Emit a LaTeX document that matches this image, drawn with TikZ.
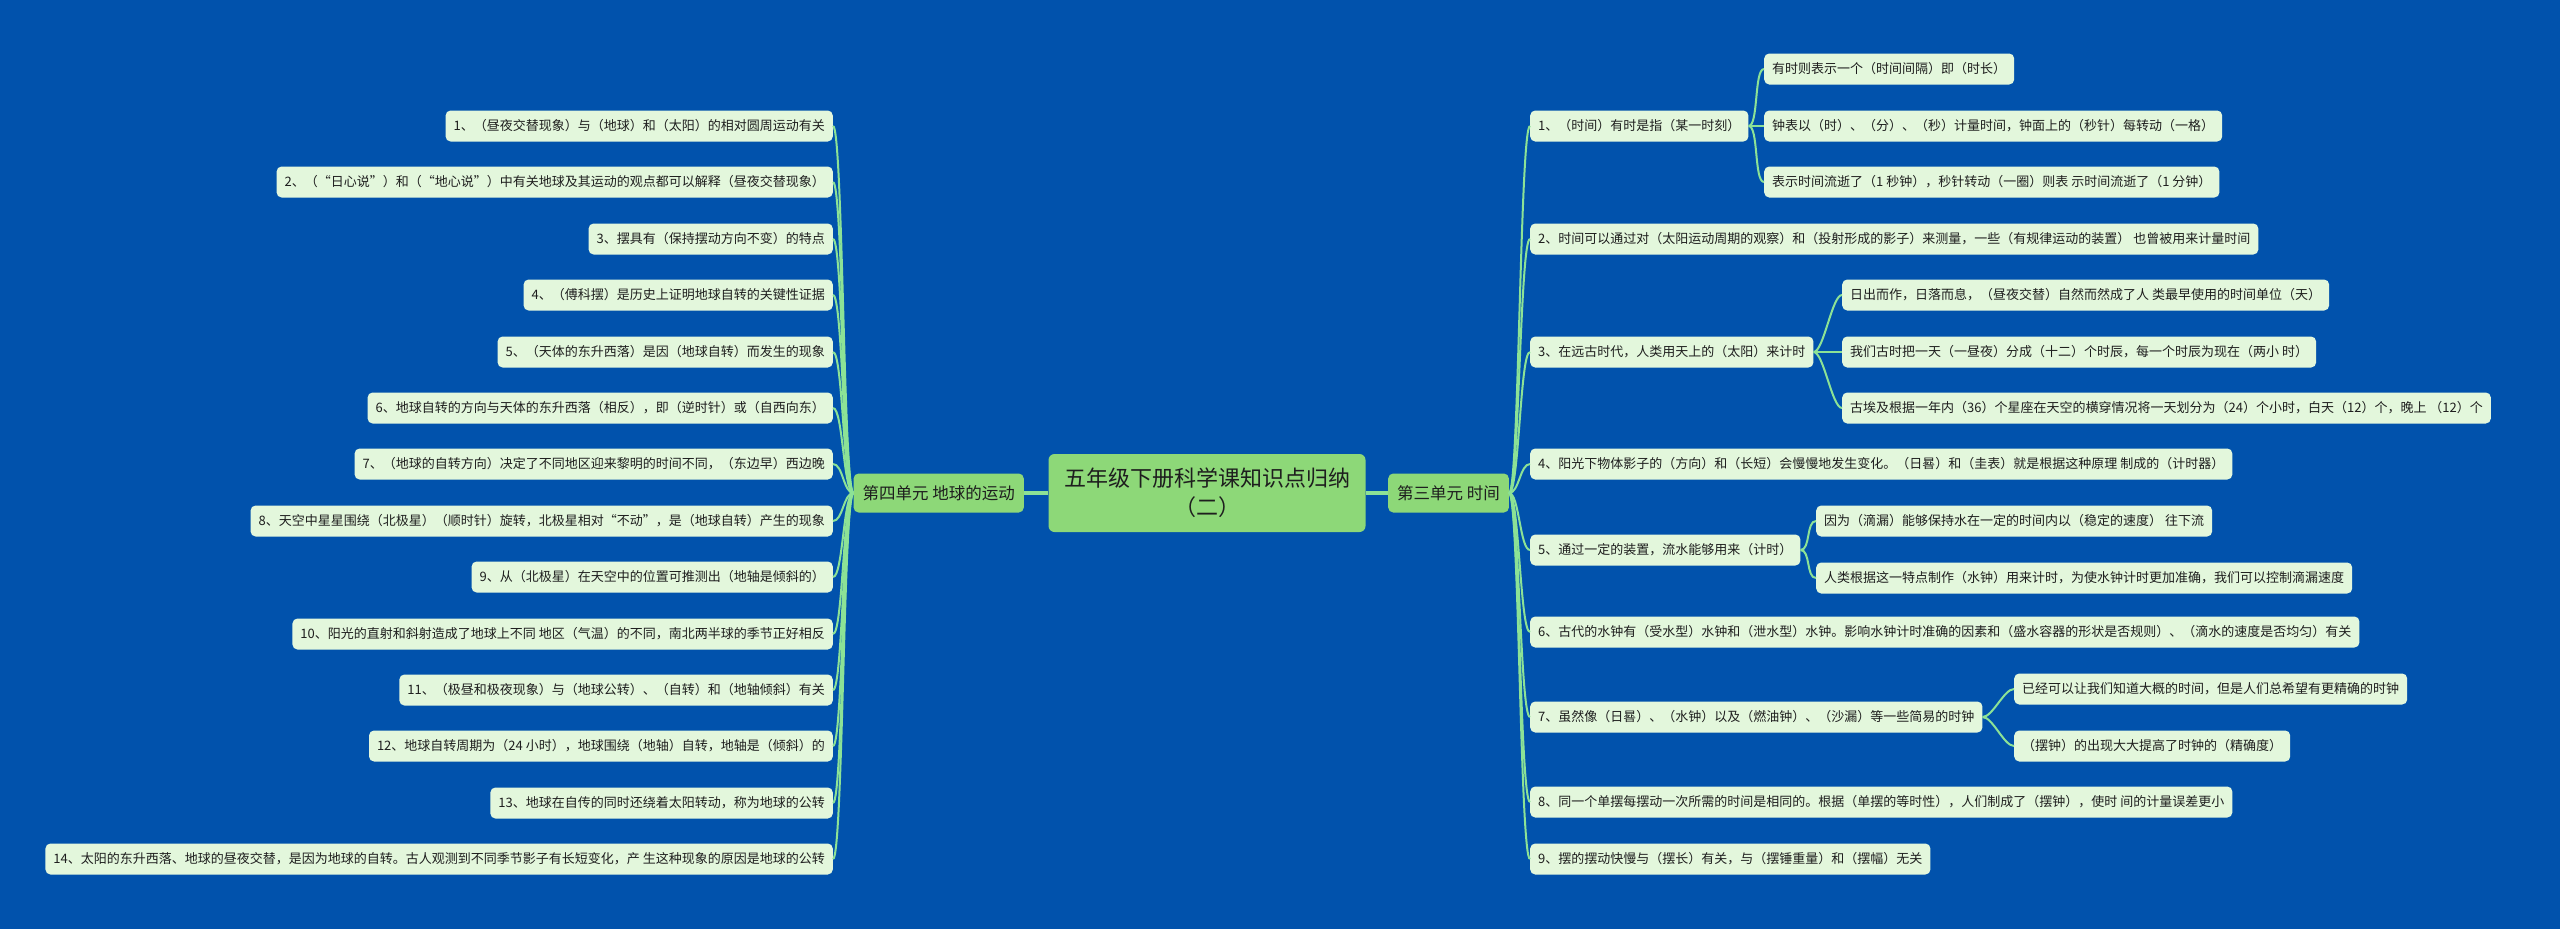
\documentclass[tikz,border=0pt]{standalone}
\usepackage{fontspec}
\setmainfont{Noto Sans CJK SC}
\definecolor{bgblue}{RGB}{1,82,172}
\definecolor{leafgreen}{RGB}{227,247,220}
\definecolor{nodegreen}{RGB}{141,216,120}
\definecolor{linegreen}{RGB}{140,226,150}
\definecolor{inkdark}{RGB}{30,30,30}
\tikzset{
leaf/.style={fill=leafgreen,text=inkdark,rounded corners=5pt,inner xsep=8pt,inner ysep=0pt,minimum height=31pt,font=\fontsize{13}{15}\selectfont},
unit/.style={fill=nodegreen,text=inkdark,rounded corners=5pt,inner xsep=9pt,inner ysep=0pt,minimum height=39pt,font=\fontsize{16.5}{20}\selectfont},
topic/.style={fill=nodegreen,text=inkdark,rounded corners=6pt,minimum width=317pt,minimum height=78pt,align=center,font=\fontsize{22}{29}\selectfont},
link/.style={draw=linegreen,line width=2pt},
toR/.style={to path={.. controls +(10,0) and +(-10,0) .. (\tikztotarget)}},
toL/.style={to path={.. controls +(-10,0) and +(10,0) .. (\tikztotarget)}},
}
\begin{document}
\begin{tikzpicture}[x=1pt,y=-1pt]
\fill[bgblue](0,0) rectangle (2560,929);
\useasboundingbox (0,0) rectangle (2560,929);

\node[topic](0) at(1207,493){五年级下册科学课知识点归纳\\（二）};
\node[unit,anchor=east](L) at(1024,493){第四单元 地球的运动};
\node[unit,anchor=west](R) at(1388,493){第三单元 时间};

\node[leaf,anchor=east](L1) at(833,126){1、（昼夜交替现象）与（地球）和（太阳）的相对圆周运动有关};
\node[leaf,anchor=east](L2) at(833,182){2、（“日心说”）和（“地心说”）中有关地球及其运动的观点都可以解释（昼夜交替现象）};
\node[leaf,anchor=east](L3) at(833,239){3、摆具有（保持摆动方向不变）的特点};
\node[leaf,anchor=east](L4) at(833,295){4、（傅科摆）是历史上证明地球自转的关键性证据};
\node[leaf,anchor=east](L5) at(833,352){5、（天体的东升西落）是因（地球自转）而发生的现象};
\node[leaf,anchor=east](L6) at(833,408){6、地球自转的方向与天体的东升西落（相反），即（逆时针）或（自西向东）};
\node[leaf,anchor=east](L7) at(833,464){7、（地球的自转方向）决定了不同地区迎来黎明的时间不同，（东边早）西边晚};
\node[leaf,anchor=east](L8) at(833,521){8、天空中星星围绕（北极星）（顺时针）旋转，北极星相对“不动”，是（地球自转）产生的现象};
\node[leaf,anchor=east](L9) at(833,577){9、从（北极星）在天空中的位置可推测出（地轴是倾斜的）};
\node[leaf,anchor=east](L10) at(833,634){10、阳光的直射和斜射造成了地球上不同 地区（气温）的不同，南北两半球的季节正好相反};
\node[leaf,anchor=east](L11) at(833,690){11、（极昼和极夜现象）与（地球公转）、（自转）和（地轴倾斜）有关};
\node[leaf,anchor=east](L12) at(833,746){12、地球自转周期为（24 小时），地球围绕（地轴）自转，地轴是（倾斜）的};
\node[leaf,anchor=east](L13) at(833,803){13、地球在自传的同时还绕着太阳转动，称为地球的公转};
\node[leaf,anchor=east](L14) at(833,859){14、太阳的东升西落、地球的昼夜交替，是因为地球的自转。古人观测到不同季节影子有长短变化，产 生这种现象的原因是地球的公转};

\node[leaf,anchor=west](R1) at(1530,126){1、（时间）有时是指（某一时刻）};
\node[leaf,anchor=west](R1a) at(1764,69){有时则表示一个（时间间隔）即（时长）};
\node[leaf,anchor=west](R1b) at(1764,126){钟表以（时）、（分）、（秒）计量时间，钟面上的（秒针）每转动（一格）};
\node[leaf,anchor=west](R1c) at(1764,182){表示时间流逝了（1 秒钟），秒针转动（一圈）则表 示时间流逝了（1 分钟）};
\node[leaf,anchor=west](R2) at(1530,239){2、时间可以通过对（太阳运动周期的观察）和（投射形成的影子）来测量，一些（有规律运动的装置） 也曾被用来计量时间};
\node[leaf,anchor=west](R3) at(1530,352){3、在远古时代，人类用天上的（太阳）来计时};
\node[leaf,anchor=west](R3a) at(1842,295){日出而作，日落而息，（昼夜交替）自然而然成了人 类最早使用的时间单位（天）};
\node[leaf,anchor=west](R3b) at(1842,352){我们古时把一天（一昼夜）分成（十二）个时辰，每一个时辰为现在（两小 时）};
\node[leaf,anchor=west](R3c) at(1842,408){古埃及根据一年内（36）个星座在天空的横穿情况将一天划分为（24）个小时，白天（12）个，晚上 （12）个};
\node[leaf,anchor=west](R4) at(1530,464){4、阳光下物体影子的（方向）和（长短）会慢慢地发生变化。（日晷）和（圭表）就是根据这种原理 制成的（计时器）};
\node[leaf,anchor=west](R5) at(1530,550){5、通过一定的装置，流水能够用来（计时）};
\node[leaf,anchor=west](R5a) at(1816,521){因为（滴漏）能够保持水在一定的时间内以（稳定的速度） 往下流};
\node[leaf,anchor=west](R5b) at(1816,578){人类根据这一特点制作（水钟）用来计时，为使水钟计时更加准确，我们可以控制滴漏速度};
\node[leaf,anchor=west](R6) at(1530,632){6、古代的水钟有（受水型）水钟和（泄水型）水钟。影响水钟计时准确的因素和（盛水容器的形状是否规则）、（滴水的速度是否均匀）有关};
\node[leaf,anchor=west](R7) at(1530,717){7、虽然像（日晷）、（水钟）以及（燃油钟）、（沙漏）等一些简易的时钟};
\node[leaf,anchor=west](R7a) at(2014,689){已经可以让我们知道大概的时间，但是人们总希望有更精确的时钟};
\node[leaf,anchor=west](R7b) at(2014,746){（摆钟）的出现大大提高了时钟的（精确度）};
\node[leaf,anchor=west](R8) at(1530,802){8、同一个单摆每摆动一次所需的时间是相同的。根据（单摆的等时性），人们制成了（摆钟），使时 间的计量误差更小};
\node[leaf,anchor=west](R9) at(1530,859){9、摆的摆动快慢与（摆长）有关，与（摆锤重量）和（摆幅）无关};

\draw[link,line width=4pt](0)--(L);
\draw[link,line width=4pt](0)--(R);
\foreach \n in {1,...,14}
  \draw[link](L.west) to[toL] (L\n.east);
\foreach \n in {1,...,9}
  \draw[link](R.east) to[toR] (R\n.west);
\foreach \n in {a,b,c}
  \draw[link](R1.east) to[toR] (R1\n.west);
\foreach \n in {a,b,c}
  \draw[link](R3.east) to[toR] (R3\n.west);
\foreach \n in {a,b}
  \draw[link](R5.east) to[toR] (R5\n.west);
\foreach \n in {a,b}
  \draw[link](R7.east) to[toR] (R7\n.west);
\end{tikzpicture}
\end{document}
